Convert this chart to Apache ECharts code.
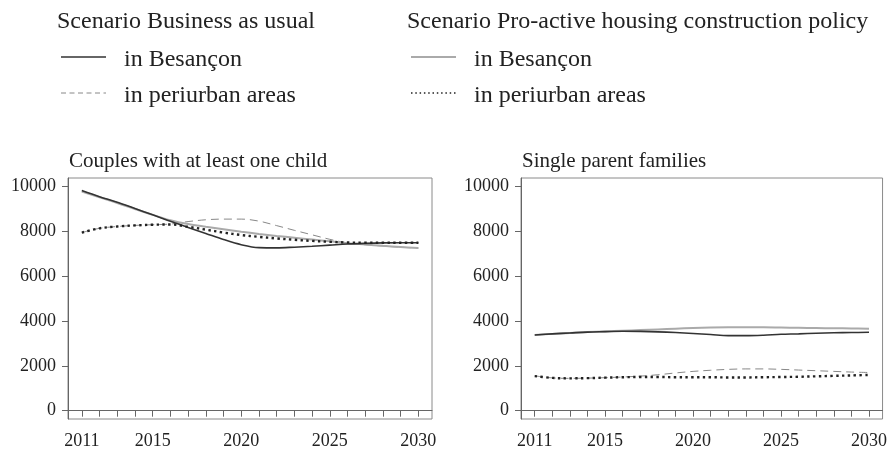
<!DOCTYPE html>
<html>
<head>
<meta charset="utf-8">
<script src="https://cdn.jsdelivr.net/npm/echarts@6/dist/echarts.min.js"></script>
<style>
html,body{margin:0;padding:0;background:#fff;}
#chart{width:890px;height:452px;}
</style>
</head>
<body>
<div id="chart"></div>
<script>
// ---- Data ----
var years = [2011,2012,2013,2014,2015,2016,2017,2018,2019,2020,2021,2022,2023,2024,2025,2026,2027,2028,2029,2030];
var yTicks = [0,2000,4000,6000,8000,10000];
var xLabelYears = [2011,2015,2020,2025,2030];

var panelTitles = ['Couples with at least one child', 'Single parent families'];
var scenarioTitles = ['Scenario Business as usual', 'Scenario Pro-active housing construction policy'];
var seriesLabels = ['in Besançon', 'in periurban areas'];

// Couples with at least one child
var couplesBauBesancon = [9800,9530,9280,9000,8720,8430,8160,7890,7620,7390,7260,7250,7280,7320,7370,7420,7450,7470,7480,7480];
var couplesBauPeriurban = [7930,8120,8200,8250,8280,8310,8420,8500,8530,8530,8440,8240,8030,7830,7630,7470,7390,7330,7280,7240];
var couplesProBesancon = [9760,9500,9250,8980,8720,8480,8310,8190,8080,7970,7870,7780,7700,7620,7540,7460,7400,7340,7290,7240];
var couplesProPeriurban = [7930,8120,8200,8250,8280,8290,8190,8060,7930,7820,7740,7670,7610,7560,7520,7490,7480,7480,7480,7480];

// Single parent families
var singleBauBesancon = [3370,3420,3460,3500,3520,3540,3530,3510,3480,3440,3390,3340,3340,3360,3400,3420,3450,3470,3480,3490];
var singleBauPeriurban = [1550,1460,1440,1450,1470,1500,1540,1600,1680,1750,1800,1840,1860,1860,1840,1810,1780,1750,1720,1700];
var singleProBesancon = [3370,3420,3460,3500,3530,3560,3590,3620,3650,3680,3700,3710,3710,3710,3700,3690,3680,3670,3660,3650];
var singleProPeriurban = [1540,1460,1440,1450,1470,1490,1500,1500,1490,1490,1490,1480,1480,1490,1500,1510,1530,1550,1570,1590];

function pairs(vals){ return years.map(function(y,i){ return [y, vals[i]]; }); }

var FONT = 'Liberation Serif';
var styles = {
  bauBes: {color:'#333', width:1.6, type:'solid'},
  bauPeri: {color:'#888', width:1, type:[8,5]},
  proBes: {color:'#aaa', width:2, type:'solid'},
  proPeri: {color:'#222', width:2.4, type:[2.4,3.4]}
};

function mkSeries(name, vals, st, idx, z){
  return {
    name: name, type:'line', data: pairs(vals), xAxisIndex: idx, yAxisIndex: idx,
    smooth: 0.35, symbol:'none', silent:true, z: z,
    lineStyle: {color: st.color, width: st.width, type: st.type}
  };
}

var grids = [
  {left:68, top:178, width:364, height:241, show:true, borderColor:'#8a8a8a', borderWidth:1},
  {left:521, top:178, width:362, height:241, show:true, borderColor:'#8a8a8a', borderWidth:1}
];

function xAx(i){
  return {
    type:'value', gridIndex:i, min:2010.22, max:2030.77,
    splitLine:{show:false},
    axisLine:{show:true, lineStyle:{color:'#666'}},
    axisTick:{show:true, inside:false, length:6, lineStyle:{color:'#666'}, customValues: years},
    axisLabel:{show:true, margin:13, color:'#222', fontFamily:FONT, fontSize:18, customValues: xLabelYears,
      formatter:function(v){ return String(v); }}
  };
}
function yAx(i){
  return {
    type:'value', gridIndex:i, min:-370, max:10360,
    splitLine:{show:false},
    axisLine:{show:true, lineStyle:{color:'#666'}},
    axisTick:{show:true, inside:false, length:6, lineStyle:{color:'#666'}, customValues: yTicks},
    axisLabel:{show:true, margin:12, color:'#222', fontFamily:FONT, fontSize:18, customValues: yTicks,
      formatter:function(v){ return String(v); }}
  };
}

// legend built from text + sample lines
function legendLine(x1, x2, y, st){
  return {type:'line', shape:{x1:x1, y1:y, x2:x2, y2:y},
    style:{stroke: st.color, lineWidth: st.width === 2.4 ? 1.6 : st.width,
      lineDash: st.type === 'solid' ? null : (st.width === 2.4 ? [1.5,2.8] : [5,3.5])}};
}
function txt(x, y, s, size){
  return {type:'text', x:x, y:y, style:{text:s, fill:'#222', font: size + 'px "' + FONT + '"', textVerticalAlign:'bottom', textBaseline:'alphabetic'}};
}

var graphics = [
  txt(57, 34, scenarioTitles[0], 24),
  legendLine(61, 106, 57, styles.bauBes),
  txt(124, 72, seriesLabels[0], 24),
  legendLine(61, 106, 93, styles.bauPeri),
  txt(124, 108, seriesLabels[1], 24),
  txt(407, 34, scenarioTitles[1], 24),
  legendLine(411, 456, 57, styles.proBes),
  txt(474, 72, seriesLabels[0], 24),
  legendLine(411, 456, 93, styles.proPeri),
  txt(474, 108, seriesLabels[1], 24),
  txt(69, 172, panelTitles[0], 21),
  txt(522, 172, panelTitles[1], 21)
];

var chart = echarts.init(document.getElementById('chart'), null, {renderer:'canvas'});
chart.setOption({
  backgroundColor:'#fff',
  animation:false,
  grid: grids,
  xAxis: [xAx(0), xAx(1)],
  yAxis: [yAx(0), yAx(1)],
  graphic: graphics,
  series: [
    mkSeries('BAU Besançon (couples)', couplesBauBesancon, styles.bauBes, 0, 4),
    mkSeries('BAU periurban (couples)', couplesBauPeriurban, styles.bauPeri, 0, 2),
    mkSeries('Pro-active Besançon (couples)', couplesProBesancon, styles.proBes, 0, 3),
    mkSeries('Pro-active periurban (couples)', couplesProPeriurban, styles.proPeri, 0, 5),
    mkSeries('BAU Besançon (single)', singleBauBesancon, styles.bauBes, 1, 4),
    mkSeries('BAU periurban (single)', singleBauPeriurban, styles.bauPeri, 1, 2),
    mkSeries('Pro-active Besançon (single)', singleProBesancon, styles.proBes, 1, 3),
    mkSeries('Pro-active periurban (single)', singleProPeriurban, styles.proPeri, 1, 5)
  ]
});
</script>
</body>
</html>
